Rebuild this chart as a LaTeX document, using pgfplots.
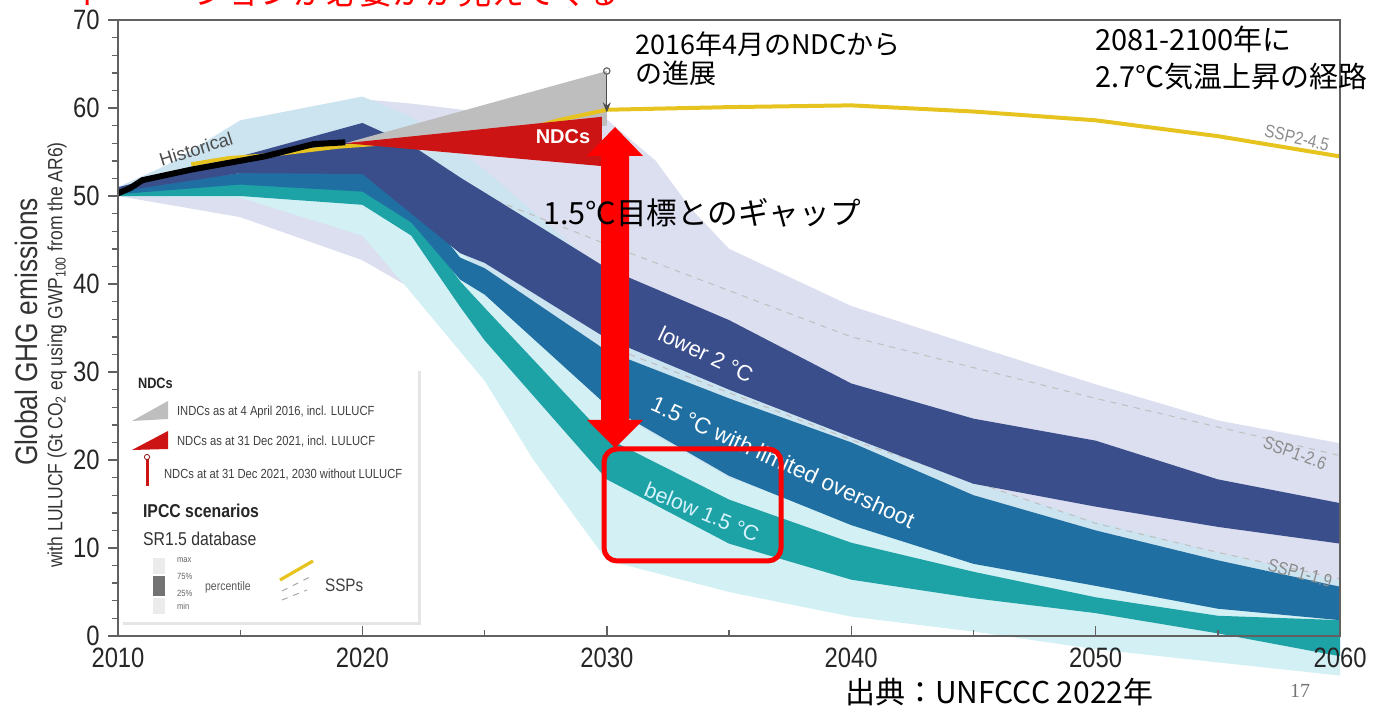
\documentclass[border=0pt]{standalone}
\usepackage{fontspec}
\setmainfont{Liberation Sans}
\newfontfamily\narrow[FakeStretch=0.85]{Liberation Sans}
\newfontfamily\jp{Noto Sans CJK JP}
\newfontfamily\serifpg{Liberation Serif}
\usepackage{pgfplots}
\pgfplotsset{compat=1.18}
\usetikzlibrary{arrows.meta}

\definecolor{navyband}{HTML}{3B4E8C}
\definecolor{blueband}{HTML}{1F6FA2}
\definecolor{tealband}{HTML}{1DA2A6}
\definecolor{envlav}{HTML}{DCDFF0}
\definecolor{envblue}{HTML}{CCE3F0}
\definecolor{envcyan}{HTML}{D3F0F4}
\definecolor{ndcgrey}{HTML}{BEBEBE}
\definecolor{ndcred}{HTML}{CC1414}
\definecolor{sspyellow}{HTML}{E6C31E}

\begin{document}
\begin{tikzpicture}
\useasboundingbox (0,0) rectangle (692pt,355.5pt);
\begin{axis}[
  at={(59pt,37.5pt)}, anchor=south west,
  scale only axis, width=611pt, height=308pt,
  xmin=2010, xmax=2060, ymin=0, ymax=70,
  clip=false, axis on top,
  xtick={2010,2020,...,2060}, ytick={0,10,...,70},
  minor x tick num=1, minor y tick num=4,
  xtick pos=bottom, ytick pos=left,
  xtick align=inside, ytick align=outside,
  major tick length=5pt, minor tick length=3pt,
  axis line style={draw=black!62, line width=0.9pt},
  every tick/.style={black!62, line width=0.7pt},
  /pgf/number format/assume math mode=true,
  /pgf/number format/1000 sep={},
  ticklabel style={font=\narrow\fontsize{14}{14}\selectfont, text=black!85, inner sep=0pt},
  xticklabel style={yshift=-6pt},
  yticklabel style={xshift=-4pt},
]
% envelopes (min-max)
\addplot[fill=envlav, draw=none] coordinates {
 (2010,51)(2012,53.5)(2015,57.5)(2020,61)(2022,60.5)(2025,59.5)(2030,58.7)(2032,54)(2033.4,48.7)(2035,44)(2040,37.5)(2045,33)(2050,28.6)(2055,24.5)(2060,21.9)
 (2060,4.5)(2055,5.5)(2050,7)(2045,9)(2040,12)(2035,17)(2030,22)(2025,33)(2022,39.5)(2020,42.7)(2015,47.6)(2010,50)} -- cycle;
\addplot[fill=envblue, draw=none] coordinates {
 (2010,51)(2012,53.5)(2015,58.6)(2020,61.3)(2022,59)(2025,53)(2030,41)(2035,30)(2040,23.5)(2045,17.5)(2050,13)(2055,9.5)(2060,6.3)
 (2060,0)(2055,1)(2050,2)(2045,3.5)(2040,5.5)(2035,9)(2030,16)(2025,32)(2022,42)(2020,46.5)(2015,49.8)(2010,50.2)} -- cycle;
\addplot[fill=envcyan, draw=none] coordinates {
 (2010,50.5)(2015,51.5)(2020,51.5)(2022,49)(2025,41)(2030,26)(2035,18)(2040,13)(2045,9)(2050,6)(2055,3.5)(2060,2.5)
 (2060,-4.5)(2055,-3)(2050,-1.5)(2045,0.5)(2040,2.2)(2035,5)(2030,8.6)(2027,20)(2025,29)(2022,39)(2020,45.5)(2015,49.8)(2010,50)} -- cycle;
% SSP1 dashed pathways
\addplot[black!25, dashed, line width=0.5pt] coordinates {(2025,50)(2030,44.5)(2040,34)(2050,27)(2060,20.5)};
\addplot[black!25, dashed, line width=0.5pt] coordinates {(2030,33)(2040,22.3)(2050,12.8)(2055,9.5)(2060,6.5)};
% interquartile bands
\addplot[fill=tealband, draw=none] coordinates {
 (2010,50.3)(2015,51.5)(2020,51.2)(2022,48.0)(2024,40.3)(2025,37.3)(2030,22.5)(2035,15.5)(2040,10.6)(2045,7.3)(2050,4.4)(2055,2.3)(2060,1.8)
 (2060,-2.3)(2055,0.3)(2050,2.6)(2045,4.3)(2040,6.4)(2035,10.5)(2030,17.8)(2025,33.6)(2024,37.4)(2022,45.5)(2020,49.0)(2015,50.0)(2010,50.0)} -- cycle;
\addplot[fill=blueband, draw=none] coordinates {
 (2010,50.8)(2015,52.6)(2020,53.0)(2022,50.0)(2024,43.0)(2025,41.8)(2030,32.4)(2035,27.0)(2040,22.0)(2045,16.0)(2050,12.0)(2055,8.6)(2060,5.6)
 (2060,1.8)(2055,3.1)(2050,5.7)(2045,8.2)(2040,12.6)(2035,18.2)(2030,26.2)(2025,38.8)(2024,40.5)(2022,47.0)(2020,50.5)(2015,51.3)(2010,50.2)} -- cycle;
\addplot[fill=navyband, draw=none] coordinates {
 (2010,51.0)(2015,54.5)(2020,58.3)(2022,55.8)(2024,52.1)(2025,50.4)(2030,41.8)(2035,35.9)(2040,28.7)(2045,24.7)(2050,22.2)(2055,17.8)(2060,15.1)
 (2060,10.5)(2055,12.4)(2050,14.7)(2045,17.3)(2040,22.6)(2035,28.0)(2030,33.8)(2025,42.4)(2024,43.5)(2022,48.0)(2020,52.5)(2015,52.6)(2010,50.5)} -- cycle;
% NDCs
\addplot[fill=ndcgrey, draw=none] coordinates {(2019.3,56.0)(2030,64.2)(2030,58)} -- cycle;
\addplot[sspyellow, line width=2pt] coordinates {(2013,53.6)(2014.5,54.3)(2016,54.6)(2019,55.6)(2022,56.2)(2025,56.8)(2027,57.8)(2028,58.6)(2030,59.8)(2035,60.1)(2040,60.3)(2045,59.6)(2050,58.6)(2055,56.8)(2060,54.5)};
\addplot[fill=ndcred, draw=none] coordinates {(2019.3,56.0)(2029.8,59.0)(2029.8,53.4)} -- cycle;
% historical
\addplot[black, line width=3pt] coordinates {(2010,50.3)(2010.5,50.9)(2011,51.8)(2013,53)(2015,54)(2016,54.5)(2017,55.2)(2018,55.9)(2019.3,56.1)};
% NDC 2030 without LULUCF marker
\addplot[black!70, line width=0.6pt, -{Stealth[length=5pt,width=4pt]}] coordinates {(2030,63.9)(2030,59.5)};
\addplot[only marks, mark=o, mark size=1.6pt, mark options={draw=black!60, fill=white, line width=0.6pt}] coordinates {(2030,64.2)};
\end{axis}

\begin{scope}[shift={(0pt,355.5pt)}, x=0.5pt, y=-0.5pt]
% y-axis titles
\node[rotate=90, font=\narrow\fontsize{15.5}{15.5}\selectfont, text=black!80] at (26,332) {Global GHG emissions};
\node[rotate=90, font=\narrow\fontsize{10.3}{10.3}\selectfont, text=black!80] at (57,355) {with LULUCF (Gt CO\textsubscript{2} eq using GWP\textsubscript{100} from the AR6)};
% in-plot labels
\node[rotate=17.7, font=\fontsize{9.2}{9.2}\selectfont, text=black!70] at (196,149) {Historical};
\node[font=\bfseries\fontsize{10}{10}\selectfont, text=white] at (563,137) {NDCs};
\node[rotate=-25.3, font=\fontsize{11}{11}\selectfont, text=white] at (706,354) {lower 2 °C};
\node[rotate=-24.5, font=\fontsize{11.3}{11.3}\selectfont, text=white] at (783,462) {1.5 °C with limited overshoot};
\node[rotate=-22.4, font=\fontsize{10.7}{10.7}\selectfont, text=white!85!cyan] at (702,512) {below 1.5 °C};
\node[rotate=-13, font=\narrow\fontsize{9}{9}\selectfont, text=black!45] at (1297,138) {SSP2-4.5};
\node[rotate=-20, font=\narrow\fontsize{9}{9}\selectfont, text=black!45] at (1295,453) {SSP1-2.6};
\node[rotate=-15, font=\narrow\fontsize{9}{9}\selectfont, text=black!45] at (1300,573) {SSP1-1.9};
% legend box
\fill[black!10] (123,371) rectangle (421,625);
\fill[white] (120,368) rectangle (418,622);
\node[anchor=base west, font=\narrow\bfseries\fontsize{7.5}{8}\selectfont, text=black!85] at (131,389) {NDCs};
\fill[ndcgrey] (132,421) -- (168,401) -- (168,419) -- cycle;
\node[anchor=base west, font=\narrow\fontsize{6.6}{7}\selectfont, text=black!75] at (170,416) {INDCs as at 4 April 2016, incl. LULUCF};
\fill[ndcred] (132,450) -- (168,431) -- (168,449) -- cycle;
\node[anchor=base west, font=\narrow\fontsize{6.6}{7}\selectfont, text=black!75] at (170,446) {NDCs as at 31 Dec 2021, incl. LULUCF};
\fill[ndcred] (145.5,459) rectangle (148.5,486);
\draw[ndcred!70!black, fill=white, line width=0.4pt] (147,457) circle[radius=1.3pt];
\node[anchor=base west, font=\narrow\fontsize{6.6}{7}\selectfont, text=black!75] at (157,479) {NDCs at at 31 Dec 2021, 2030 without LULUCF};
\node[anchor=base west, font=\narrow\bfseries\fontsize{9.3}{10}\selectfont, text=black!85] at (136,518) {IPCC scenarios};
\node[anchor=base west, font=\narrow\fontsize{9.3}{10}\selectfont, text=black!80] at (136,546) {SR1.5 database};
\fill[black!8] (153,558) rectangle (165,574);
\fill[black!55] (153,576) rectangle (165,596);
\fill[black!8] (153,598) rectangle (165,614);
\node[anchor=base west, font=\narrow\fontsize{4.5}{5}\selectfont, text=black!60] at (170,563) {max};
\node[anchor=base west, font=\narrow\fontsize{4.5}{5}\selectfont, text=black!60] at (170,580) {75\%};
\node[anchor=base west, font=\narrow\fontsize{4.5}{5}\selectfont, text=black!60] at (170,597) {25\%};
\node[anchor=base west, font=\narrow\fontsize{4.5}{5}\selectfont, text=black!60] at (170,610) {min};
\node[anchor=base west, font=\narrow\fontsize{6.2}{7}\selectfont, text=black!65] at (198,591) {percentile};
\draw[sspyellow, line width=1.6pt] (280,580) -- (313,561);
\draw[black!35, dashed, line width=0.5pt] (282,591) -- (310,577);
\draw[black!35, dashed, line width=0.5pt] (282,600) -- (307,590);
\node[anchor=base west, font=\narrow\fontsize{9}{9}\selectfont, text=black!75] at (318,592) {SSPs};
% red gap arrow and box
\fill[red] (615,127) -- (643,156) -- (629,156) -- (629,420) -- (643,420) -- (615,448) -- (587,420) -- (601,420) -- (601,156) -- (587,156) -- cycle;
\draw[red, line width=2.5pt, rounded corners=6.5pt] (604,449) rectangle (781,561);
% Japanese annotations
\node[anchor=base west, font=\jp\fontsize{13.5}{14}\selectfont] at (628,55) {2016年4月のNDCから};
\node[anchor=base west, font=\jp\fontsize{13.5}{14}\selectfont] at (628,84) {の進展};
\node[anchor=base west, font=\jp\fontsize{14.5}{15}\selectfont] at (1088,51) {2081-2100年に};
\node[anchor=base west, font=\jp\fontsize{14.5}{15}\selectfont] at (1088,88) {2.7℃気温上昇の経路};
\node[anchor=base west, font=\jp\fontsize{15.3}{16}\selectfont] at (536,225) {1.5℃目標とのギャップ};
\node[anchor=base west, font=\jp\fontsize{15}{16}\selectfont] at (838,703) {出典：UNFCCC 2022年};
\node[anchor=base west, font=\serifpg\fontsize{10}{10}\selectfont, text=black!55] at (1283,697) {17};
\node[anchor=base east, font=\jp\fontsize{16.5}{17}\selectfont, text=red] at (627,5) {ションが必要かが見えてくる};
\node[anchor=base west, font=\jp\fontsize{16.5}{17}\selectfont, text=red] at (62,5) {イ};
\end{scope}
\end{tikzpicture}
\end{document}
